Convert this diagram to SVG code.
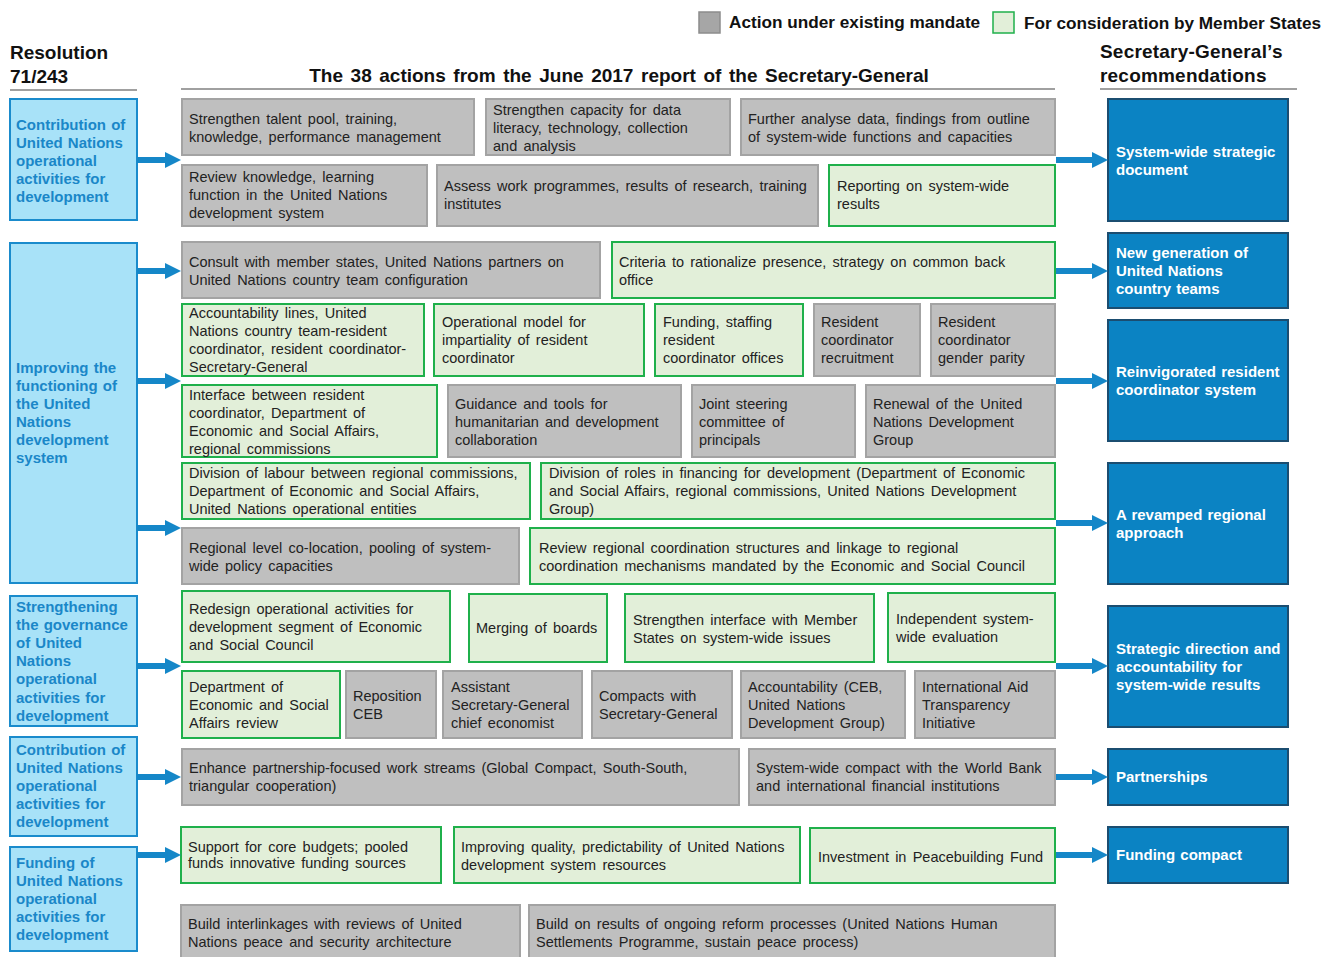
<svg xmlns="http://www.w3.org/2000/svg" width="1323" height="957" viewBox="0 0 1323 957">
<style>
.g{fill:#bfbfbf;stroke:#a3a3a3;stroke-width:2}
.n{fill:#e2efd9;stroke:#1fb04b;stroke-width:2}
.l{fill:#a8e2f8;stroke:#1a8bcc;stroke-width:2}
.r{fill:#0b83c3;stroke:#1b4d70;stroke-width:2}
.t{font-family:"Liberation Sans",Arial,sans-serif;font-size:14.5px;fill:#222;word-spacing:2.2px}
.lt{font-family:"Liberation Sans",Arial,sans-serif;font-size:15px;font-weight:bold;fill:#1a87c8;word-spacing:1px}
.rt{font-family:"Liberation Sans",Arial,sans-serif;font-size:15px;font-weight:bold;fill:#fff;word-spacing:1px}
.h{font-family:"Liberation Sans",Arial,sans-serif;font-size:19px;font-weight:bold;fill:#111}
.lg{font-family:"Liberation Sans",Arial,sans-serif;font-size:17.2px;font-weight:bold;fill:#111}
.u{stroke:#a0a0a0;stroke-width:2}
.a{fill:#1587c8}
</style>
<rect width="1323" height="957" fill="#fff"/>

<g id="legend">
<rect x="699" y="12" width="21" height="21" fill="#a6a6a6" stroke="#8c8c8c" stroke-width="1.5"/>
<text class="lg" x="729" y="28">Action under existing mandate</text>
<rect x="993" y="12" width="21" height="21" fill="#e2efd9" stroke="#1fb04b" stroke-width="1.5"/>
<text class="lg" x="1024" y="29">For consideration by Member States</text>
</g>

<g id="headers">
<text class="h" x="10" y="59">Resolution</text>
<text class="h" x="10" y="83">71/243</text>
<line class="u" x1="10" y1="90" x2="137" y2="90"/>
<text class="h" x="619" y="82" text-anchor="middle" style="word-spacing:2.3px">The 38 actions from the June 2017 report of the Secretary-General</text>
<line class="u" x1="181" y1="89" x2="1055" y2="89"/>
<text class="h" x="1100" y="58" style="letter-spacing:0.2px">Secretary-General’s</text>
<text class="h" x="1100" y="82" style="letter-spacing:0.2px">recommendations</text>
<line class="u" x1="1100" y1="89" x2="1297" y2="89"/>
</g>

<g id="resolution-nodes">
<g id="res1"><rect class="l" x="10" y="99" width="127" height="121"/>
<text class="lt"><tspan x="16" y="130">Contribution of</tspan><tspan x="16" y="148">United Nations</tspan><tspan x="16" y="166">operational</tspan><tspan x="16" y="184">activities for</tspan><tspan x="16" y="202">development</tspan></text></g>
<g id="res2"><rect class="l" x="10" y="243" width="127" height="340"/>
<text class="lt"><tspan x="16" y="373">Improving the</tspan><tspan x="16" y="391">functioning of</tspan><tspan x="16" y="409">the United</tspan><tspan x="16" y="427">Nations</tspan><tspan x="16" y="445">development</tspan><tspan x="16" y="463">system</tspan></text></g>
<g id="res3"><rect class="l" x="10" y="596" width="127" height="130"/>
<text class="lt"><tspan x="16" y="612">Strengthening</tspan><tspan x="16" y="630">the governance</tspan><tspan x="16" y="648">of United</tspan><tspan x="16" y="666">Nations</tspan><tspan x="16" y="684">operational</tspan><tspan x="16" y="703">activities for</tspan><tspan x="16" y="721">development</tspan></text></g>
<g id="res4"><rect class="l" x="10" y="737" width="127" height="99"/>
<text class="lt"><tspan x="16" y="755">Contribution of</tspan><tspan x="16" y="773">United Nations</tspan><tspan x="16" y="791">operational</tspan><tspan x="16" y="809">activities for</tspan><tspan x="16" y="827">development</tspan></text></g>
<g id="res5"><rect class="l" x="10" y="847" width="127" height="104"/>
<text class="lt"><tspan x="16" y="868">Funding of</tspan><tspan x="16" y="886">United Nations</tspan><tspan x="16" y="904">operational</tspan><tspan x="16" y="922">activities for</tspan><tspan x="16" y="940">development</tspan></text></g>
</g>

<g id="recommendation-nodes">
<g id="rec1"><rect class="r" x="1108" y="99" width="180" height="122"/>
<text class="rt"><tspan x="1116" y="157">System-wide strategic</tspan><tspan x="1116" y="175">document</tspan></text></g>
<g id="rec2"><rect class="r" x="1108" y="233" width="180" height="75"/>
<text class="rt"><tspan x="1116" y="258">New generation of</tspan><tspan x="1116" y="276">United Nations</tspan><tspan x="1116" y="294">country teams</tspan></text></g>
<g id="rec3"><rect class="r" x="1108" y="320" width="180" height="121"/>
<text class="rt"><tspan x="1116" y="377">Reinvigorated resident</tspan><tspan x="1116" y="395">coordinator system</tspan></text></g>
<g id="rec4"><rect class="r" x="1108" y="463" width="180" height="121"/>
<text class="rt"><tspan x="1116" y="520">A revamped regional</tspan><tspan x="1116" y="538">approach</tspan></text></g>
<g id="rec5"><rect class="r" x="1108" y="606" width="180" height="121"/>
<text class="rt"><tspan x="1116" y="654">Strategic direction and</tspan><tspan x="1116" y="672">accountability for</tspan><tspan x="1116" y="690">system-wide results</tspan></text></g>
<g id="rec6"><rect class="r" x="1108" y="749" width="180" height="56"/>
<text class="rt"><tspan x="1116" y="782">Partnerships</tspan></text></g>
<g id="rec7"><rect class="r" x="1108" y="827" width="180" height="56"/>
<text class="rt"><tspan x="1116" y="860">Funding compact</tspan></text></g>
</g>

<g id="action-nodes">
<g id="a1"><rect class="g" x="182" y="99" width="292" height="56"/>
<text class="t"><tspan x="189" y="124">Strengthen talent pool, training,</tspan><tspan x="189" y="142">knowledge, performance management</tspan></text></g>
<g id="a2"><rect class="g" x="486" y="99" width="244" height="56"/>
<text class="t"><tspan x="493" y="115">Strengthen capacity for data</tspan><tspan x="493" y="133">literacy, technology, collection</tspan><tspan x="493" y="151">and analysis</tspan></text></g>
<g id="a3"><rect class="g" x="741" y="99" width="314" height="56"/>
<text class="t"><tspan x="748" y="124">Further analyse data, findings from outline</tspan><tspan x="748" y="142">of system-wide functions and capacities</tspan></text></g>

<g id="a4"><rect class="g" x="182" y="165" width="245" height="61"/>
<text class="t"><tspan x="189" y="182">Review knowledge, learning</tspan><tspan x="189" y="200">function in the United Nations</tspan><tspan x="189" y="218">development system</tspan></text></g>
<g id="a5"><rect class="g" x="437" y="165" width="381" height="61"/>
<text class="t"><tspan x="444" y="191">Assess work programmes, results of research, training</tspan><tspan x="444" y="209">institutes</tspan></text></g>
<g id="a6"><rect class="n" x="829" y="165" width="226" height="61"/>
<text class="t"><tspan x="837" y="191">Reporting on system-wide</tspan><tspan x="837" y="209">results</tspan></text></g>

<g id="a7"><rect class="g" x="182" y="242" width="418" height="56"/>
<text class="t"><tspan x="189" y="267">Consult with member states, United Nations partners on</tspan><tspan x="189" y="285">United Nations country team configuration</tspan></text></g>
<g id="a8"><rect class="n" x="612" y="242" width="443" height="56"/>
<text class="t"><tspan x="619" y="267">Criteria to rationalize presence, strategy on common back</tspan><tspan x="619" y="285">office</tspan></text></g>

<g id="a9"><rect class="n" x="182" y="304" width="242" height="72"/>
<text class="t"><tspan x="189" y="318">Accountability lines, United</tspan><tspan x="189" y="336">Nations country team-resident</tspan><tspan x="189" y="354">coordinator, resident coordinator-</tspan><tspan x="189" y="372">Secretary-General</tspan></text></g>
<g id="a10"><rect class="n" x="434" y="304" width="210" height="72"/>
<text class="t"><tspan x="442" y="327">Operational model for</tspan><tspan x="442" y="345">impartiality of resident</tspan><tspan x="442" y="363">coordinator</tspan></text></g>
<g id="a11"><rect class="n" x="655" y="304" width="148" height="72"/>
<text class="t"><tspan x="663" y="327">Funding, staffing</tspan><tspan x="663" y="345">resident</tspan><tspan x="663" y="363">coordinator offices</tspan></text></g>
<g id="a12"><rect class="g" x="814" y="304" width="106" height="72"/>
<text class="t"><tspan x="821" y="327">Resident</tspan><tspan x="821" y="345">coordinator</tspan><tspan x="821" y="363">recruitment</tspan></text></g>
<g id="a13"><rect class="g" x="931" y="304" width="124" height="72"/>
<text class="t"><tspan x="938" y="327">Resident</tspan><tspan x="938" y="345">coordinator</tspan><tspan x="938" y="363">gender parity</tspan></text></g>

<g id="a14"><rect class="n" x="182" y="385" width="255" height="72"/>
<text class="t"><tspan x="189" y="400">Interface between resident</tspan><tspan x="189" y="418">coordinator, Department of</tspan><tspan x="189" y="436">Economic and Social Affairs,</tspan><tspan x="189" y="454">regional commissions</tspan></text></g>
<g id="a15"><rect class="g" x="448" y="385" width="233" height="72"/>
<text class="t"><tspan x="455" y="409">Guidance and tools for</tspan><tspan x="455" y="427">humanitarian and development</tspan><tspan x="455" y="445">collaboration</tspan></text></g>
<g id="a16"><rect class="g" x="692" y="385" width="163" height="72"/>
<text class="t"><tspan x="699" y="409">Joint steering</tspan><tspan x="699" y="427">committee of</tspan><tspan x="699" y="445">principals</tspan></text></g>
<g id="a17"><rect class="g" x="866" y="385" width="189" height="72"/>
<text class="t"><tspan x="873" y="409">Renewal of the United</tspan><tspan x="873" y="427">Nations Development</tspan><tspan x="873" y="445">Group</tspan></text></g>

<g id="a18"><rect class="n" x="182" y="463" width="348" height="56"/>
<text class="t"><tspan x="189" y="478">Division of labour between regional commissions,</tspan><tspan x="189" y="496">Department of Economic and Social Affairs,</tspan><tspan x="189" y="514">United Nations operational entities</tspan></text></g>
<g id="a19"><rect class="n" x="541" y="463" width="514" height="56"/>
<text class="t"><tspan x="549" y="478">Division of roles in financing for development (Department of Economic</tspan><tspan x="549" y="496">and Social Affairs, regional commissions, United Nations Development</tspan><tspan x="549" y="514">Group)</tspan></text></g>

<g id="a20"><rect class="g" x="182" y="528" width="337" height="56"/>
<text class="t"><tspan x="189" y="553">Regional level co-location, pooling of system-</tspan><tspan x="189" y="571">wide policy capacities</tspan></text></g>
<g id="a21"><rect class="n" x="530" y="528" width="525" height="56"/>
<text class="t"><tspan x="539" y="553">Review regional coordination structures and linkage to regional</tspan><tspan x="539" y="571">coordination mechanisms mandated by the Economic and Social Council</tspan></text></g>

<g id="a22"><rect class="n" x="182" y="591" width="268" height="71"/>
<text class="t"><tspan x="189" y="614">Redesign operational activities for</tspan><tspan x="189" y="632">development segment of Economic</tspan><tspan x="189" y="650">and Social Council</tspan></text></g>
<g id="a23"><rect class="n" x="469" y="594" width="138" height="68"/>
<text class="t"><tspan x="476" y="633">Merging of boards</tspan></text></g>
<g id="a24"><rect class="n" x="625" y="594" width="249" height="68"/>
<text class="t"><tspan x="633" y="625">Strengthen interface with Member</tspan><tspan x="633" y="643">States on system-wide issues</tspan></text></g>
<g id="a25"><rect class="n" x="888" y="593" width="167" height="69"/>
<text class="t"><tspan x="896" y="624">Independent system-</tspan><tspan x="896" y="642">wide evaluation</tspan></text></g>

<g id="a26"><rect class="n" x="182" y="671" width="158" height="67"/>
<text class="t"><tspan x="189" y="692">Department of</tspan><tspan x="189" y="710">Economic and Social</tspan><tspan x="189" y="728">Affairs review</tspan></text></g>
<g id="a27"><rect class="g" x="346" y="671" width="90" height="67"/>
<text class="t"><tspan x="353" y="701">Reposition</tspan><tspan x="353" y="719">CEB</tspan></text></g>
<g id="a28"><rect class="g" x="443" y="671" width="139" height="67"/>
<text class="t"><tspan x="451" y="692">Assistant</tspan><tspan x="451" y="710">Secretary-General</tspan><tspan x="451" y="728">chief economist</tspan></text></g>
<g id="a29"><rect class="g" x="592" y="671" width="140" height="67"/>
<text class="t"><tspan x="599" y="701">Compacts with</tspan><tspan x="599" y="719">Secretary-General</tspan></text></g>
<g id="a30"><rect class="g" x="741" y="671" width="164" height="67"/>
<text class="t"><tspan x="748" y="692">Accountability (CEB,</tspan><tspan x="748" y="710">United Nations</tspan><tspan x="748" y="728">Development Group)</tspan></text></g>
<g id="a31"><rect class="g" x="915" y="671" width="140" height="67"/>
<text class="t"><tspan x="922" y="692">International Aid</tspan><tspan x="922" y="710">Transparency</tspan><tspan x="922" y="728">Initiative</tspan></text></g>

<g id="a32"><rect class="g" x="182" y="749" width="557" height="56"/>
<text class="t"><tspan x="189" y="773">Enhance partnership-focused work streams (Global Compact, South-South,</tspan><tspan x="189" y="791">triangular cooperation)</tspan></text></g>
<g id="a33"><rect class="g" x="749" y="749" width="306" height="56"/>
<text class="t"><tspan x="756" y="773">System-wide compact with the World Bank</tspan><tspan x="756" y="791">and international financial institutions</tspan></text></g>

<g id="a34"><rect class="n" x="181" y="827" width="260" height="56"/>
<text class="t"><tspan x="188" y="852">Support for core budgets; pooled</tspan><tspan x="188" y="868">funds innovative funding sources</tspan></text></g>
<g id="a35"><rect class="n" x="454" y="827" width="346" height="56"/>
<text class="t"><tspan x="461" y="852">Improving quality, predictability of United Nations</tspan><tspan x="461" y="870">development system resources</tspan></text></g>
<g id="a36"><rect class="n" x="810" y="828" width="245" height="55"/>
<text class="t"><tspan x="818" y="862">Investment in Peacebuilding Fund</tspan></text></g>

<g id="a37"><rect class="g" x="181" y="905" width="339" height="60"/>
<text class="t"><tspan x="188" y="929">Build interlinkages with reviews of United</tspan><tspan x="188" y="947">Nations peace and security architecture</tspan></text></g>
<g id="a38"><rect class="g" x="529" y="905" width="526" height="60"/>
<text class="t"><tspan x="536" y="929">Build on results of ongoing reform processes (United Nations Human</tspan><tspan x="536" y="947">Settlements Programme, sustain peace process)</tspan></text></g>
</g>

<g id="connectors">
<path class="a" d="M137,157H165V152L181,160L165,168V163H137Z"/>
<path class="a" d="M137,268H165V263L181,271L165,279V274H137Z"/>
<path class="a" d="M137,378H165V373L181,381L165,389V384H137Z"/>
<path class="a" d="M137,525H165V520L181,528L165,536V531H137Z"/>
<path class="a" d="M137,663H165V658L181,666L165,674V669H137Z"/>
<path class="a" d="M137,774H165V769L181,777L165,785V780H137Z"/>
<path class="a" d="M137,852H165V847L181,855L165,863V858H137Z"/>
<path class="a" d="M1056,157H1092V152L1108,160L1092,168V163H1056Z"/>
<path class="a" d="M1056,268H1092V263L1108,271L1092,279V274H1056Z"/>
<path class="a" d="M1056,378H1092V373L1108,381L1092,389V384H1056Z"/>
<path class="a" d="M1056,520H1092V515L1108,523L1092,531V526H1056Z"/>
<path class="a" d="M1056,663H1092V658L1108,666L1092,674V669H1056Z"/>
<path class="a" d="M1056,774H1092V769L1108,777L1092,785V780H1056Z"/>
<path class="a" d="M1056,852H1092V847L1108,855L1092,863V858H1056Z"/>
</g>
</svg>
